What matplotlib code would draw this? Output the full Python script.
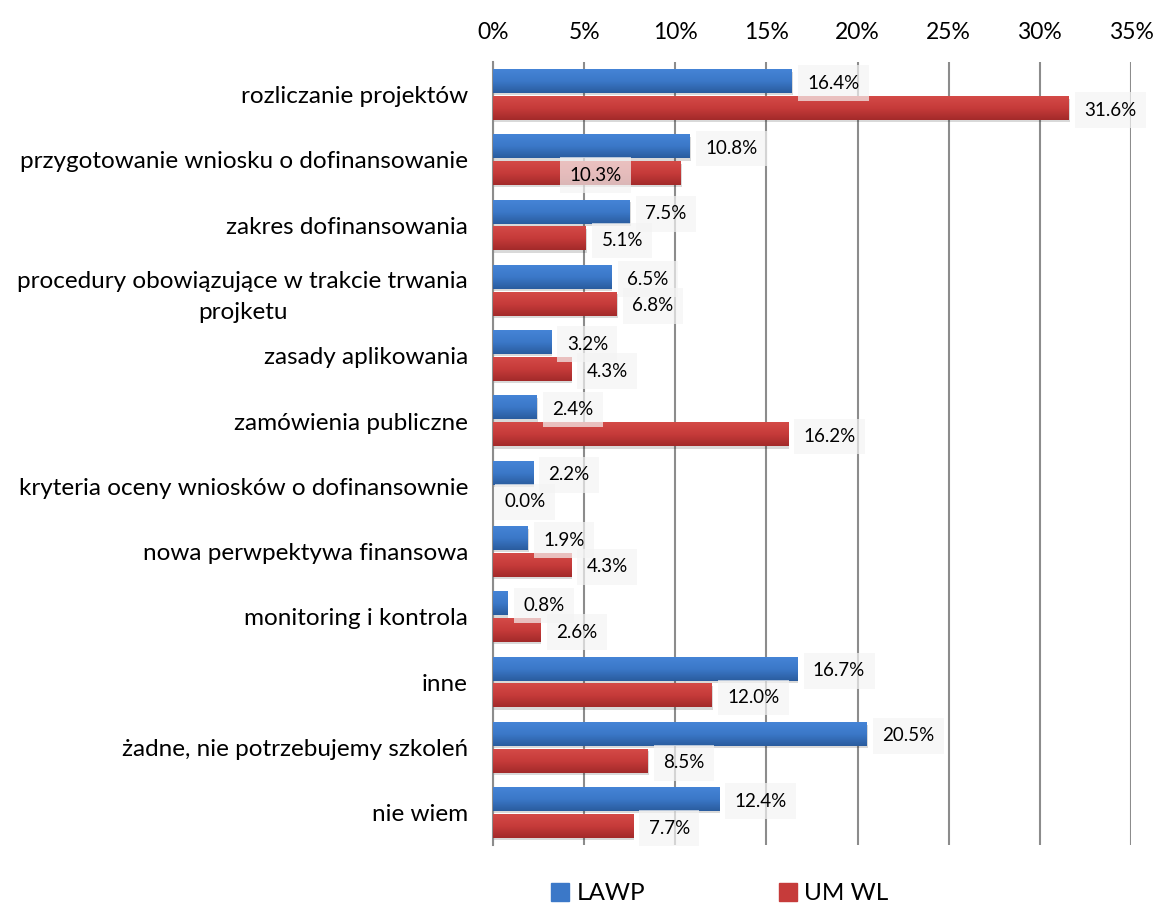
import numpy as np
import matplotlib
matplotlib.use("Agg")
import matplotlib.pyplot as plt
from matplotlib.colors import LinearSegmentedColormap

categories = [
    "rozliczanie projektów",
    "przygotowanie wniosku o dofinansowanie",
    "zakres dofinansowania",
    "procedury obowiązujące w trakcie trwania\nprojketu",
    "zasady aplikowania",
    "zamówienia publiczne",
    "kryteria oceny wniosków o dofinansownie",
    "nowa perwpektywa finansowa",
    "monitoring i kontrola",
    "inne",
    "żadne, nie potrzebujemy szkoleń",
    "nie wiem",
]
lawp = [16.4, 10.8, 7.5, 6.5, 3.2, 2.4, 2.2, 1.9, 0.8, 16.7, 20.5, 12.4]
umwl = [31.6, 10.3, 5.1, 6.8, 4.3, 16.2, 0.0, 4.3, 2.6, 12.0, 8.5, 7.7]
series_names = ["LAWP", "UM WL"]
xticks = [0, 5, 10, 15, 20, 25, 30, 35]

plt.rcParams["font.family"] = ["Lato", "DejaVu Sans"]

fig = plt.figure(figsize=(11.57, 9.07), dpi=100)
ax = fig.add_axes([0.4261, 0.068, 0.9775 - 0.4261, 0.9316 - 0.068])

n = len(categories)
y = np.arange(n)
h = 0.36
off = 0.205

blue_cmap = LinearSegmentedColormap.from_list("b", ["#4584D6", "#3B78C8", "#2A5C9E"])
red_cmap = LinearSegmentedColormap.from_list("r", ["#D44A47", "#C63B3A", "#A32A2A"])
grad = np.linspace(0, 1, 64).reshape(-1, 1)


def gradient_bars(vals, centers, cmap, z):
    bars = ax.barh(centers, vals, height=h, color="none", zorder=z)
    for b in bars:
        x0, y0 = b.get_x(), b.get_y()
        w, hh = b.get_width(), b.get_height()
        if w <= 0:
            continue
        # soft drop shadow under each bar
        ax.add_patch(plt.Rectangle((x0, y0 + hh * 0.1), w + 0.05, hh,
                                   color="#000000", alpha=0.15, lw=0, zorder=z - 0.5))
        ax.imshow(grad, cmap=cmap, aspect="auto",
                  extent=(x0, x0 + w, y0 + hh, y0), zorder=z)
    return bars


gradient_bars(lawp, y - off, blue_cmap, 3)
gradient_bars(umwl, y + off, red_cmap, 3)

box = dict(boxstyle="square,pad=0.5", facecolor="#F4F4F4", edgecolor="none", alpha=0.7)


def label(v, yc, xpos=None):
    xp = v + 0.85 if xpos is None else xpos
    ax.text(xp, yc + 0.03, f"{v:.1f}%", ha="left", va="center", fontsize=13.5,
            color="#000000", bbox=box, zorder=6)


for i in range(n):
    label(lawp[i], y[i] - off)
    label(umwl[i], y[i] + off, 4.2 if i == 1 else (0.65 if umwl[i] == 0 else None))

ax.set_xlim(0, 35)
ax.set_ylim(n - 0.5, -0.5)
ax.set_xticks(xticks)
ax.set_xticklabels([f"{t}%" for t in xticks], fontsize=16.5)
ax.xaxis.tick_top()
ax.tick_params(axis="x", length=0, pad=14)
ax.set_yticks(y)
ax.set_yticklabels(categories, fontsize=17.5, ha="right", linespacing=1.55)
ax.tick_params(axis="y", length=0, pad=18)
for t in ax.get_yticklabels():
    t.set_multialignment("center")

ax.grid(axis="x", color="#8C8C8C", linewidth=1.5, zorder=0)
ax.set_axisbelow(True)
for s in ["top", "right", "bottom"]:
    ax.spines[s].set_visible(False)
ax.spines["left"].set_color("#8C8C8C")
ax.spines["left"].set_linewidth(1.5)

handles = [plt.Rectangle((0, 0), 1, 1, color="#3B78C8"),
           plt.Rectangle((0, 0), 1, 1, color="#C63B3A")]
fig.legend(handles, series_names, loc="center", bbox_to_anchor=(0.622, 0.015),
           ncol=2, frameon=False, fontsize=17.5, handlelength=0.75, handleheight=0.75,
           handletextpad=0.3, columnspacing=5.5)

fig.savefig("out.png", dpi=100)
